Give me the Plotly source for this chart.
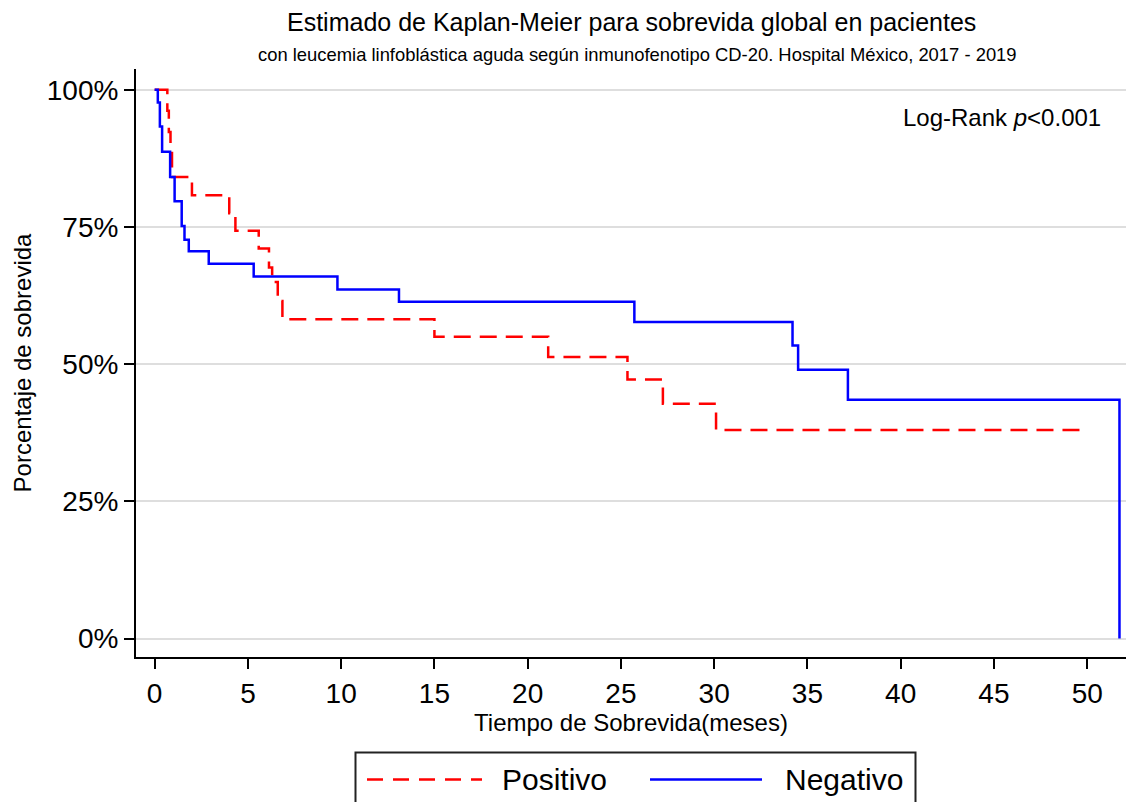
import plotly.graph_objects as go

# ---------------- data ----------------
pos_time = [0, 0.68, 0.76, 0.85, 0.93, 2.00, 4.00, 4.33, 5.58, 6.13, 6.30, 6.60, 6.85,
            15.00, 21.10, 25.35, 27.25, 30.10, 49.87]
pos_surv = [100, 96.2, 92.3, 88.5, 84.1, 80.8, 77.5, 74.3, 71.1, 67.6, 65.0, 61.5, 58.2,
            55.0, 51.3, 47.2, 42.8, 38.0, 38.0]

neg_time = [0, 0.17, 0.28, 0.40, 0.83, 1.07, 1.45, 1.60, 1.83, 2.90, 5.31, 9.80, 13.10,
            25.72, 34.20, 34.50, 37.17, 51.73]
neg_surv = [100, 97.7, 93.3, 88.7, 84.1, 79.7, 75.2, 72.7, 70.6, 68.3, 66.0, 63.6, 61.4,
            57.7, 53.4, 49.0, 43.5, 0]

x_ticks = [0, 5, 10, 15, 20, 25, 30, 35, 40, 45, 50]
y_ticks = [0, 25, 50, 75, 100]
y_tick_labels = ["0%", "25%", "50%", "75%", "100%"]
group_names = ["Positivo", "Negativo"]

title_text = "Estimado de Kaplan-Meier para sobrevida global en pacientes"
subtitle_text = ("con leucemia linfoblástica aguda según inmunofenotipo CD-20. "
                 "Hospital México, 2017 - 2019")
logrank_text = "Log-Rank <i>p</i>&lt;0.001"

# ---------------- layout geometry ----------------
W, H = 1126, 802
ML, MR, MT = 136, 0, 69
AXIS_Y = 657.5
MB = H - AXIS_Y
PW = W - ML - MR
PH = AXIS_Y - MT
FONT = "Liberation Sans, Arial, sans-serif"


def xp(px):
    return (px - ML) / PW


def yp(py):
    return (AXIS_Y - py) / PH


fig = go.Figure()
fig.add_trace(go.Scatter(
    x=pos_time, y=pos_surv, mode="lines", name=group_names[0],
    line=dict(color="#ff0000", width=2.5, dash="17px,9px", shape="hv"),
    showlegend=False))
fig.add_trace(go.Scatter(
    x=neg_time, y=neg_surv, mode="lines", name=group_names[1],
    line=dict(color="#0000ff", width=2.5, shape="hv"),
    showlegend=False))

annotations = [
    dict(text=title_text, x=xp(631), y=yp(22), xref="paper", yref="paper",
         xanchor="center", yanchor="middle", showarrow=False,
         font=dict(size=25, color="black", family=FONT)),
    dict(text=subtitle_text, x=xp(637), y=yp(54), xref="paper", yref="paper",
         xanchor="center", yanchor="middle", showarrow=False,
         font=dict(size=18.4, color="black", family=FONT)),
    dict(text=logrank_text, x=xp(1103), y=yp(118), xref="paper", yref="paper",
         xanchor="right", yanchor="middle", showarrow=False,
         font=dict(size=24, color="black", family=FONT)),
    dict(text=group_names[0], x=xp(500), y=yp(780.5), xref="paper", yref="paper",
         xanchor="left", yanchor="middle", showarrow=False,
         font=dict(size=30, color="black", family=FONT)),
    dict(text=group_names[1], x=xp(783), y=yp(780.5), xref="paper", yref="paper",
         xanchor="left", yanchor="middle", showarrow=False,
         font=dict(size=30, color="black", family=FONT)),
]

shapes = [
    dict(type="rect", xref="paper", yref="paper",
         x0=xp(355.5), x1=xp(915.5), y0=yp(753), y1=yp(815),
         line=dict(color="#222222", width=2), fillcolor="rgba(0,0,0,0)"),
    dict(type="line", xref="paper", yref="paper",
         x0=xp(367), x1=xp(482), y0=yp(780), y1=yp(780),
         line=dict(color="#ff0000", width=2.5, dash="16px,10px")),
    dict(type="line", xref="paper", yref="paper",
         x0=xp(650), x1=xp(762), y0=yp(780), y1=yp(780),
         line=dict(color="#0000ff", width=2.5)),
]

fig.update_layout(
    width=W, height=H,
    margin=dict(l=ML, r=MR, t=MT, b=MB, pad=0),
    paper_bgcolor="white", plot_bgcolor="white",
    font=dict(family=FONT, color="black"),
    annotations=annotations, shapes=shapes,
    showlegend=False,
)
fig.update_xaxes(
    range=[-1.0, 52.08], tickvals=x_ticks, ticks="outside", ticklen=10, tickwidth=2,
    tickcolor="black", showline=True, linecolor="black", linewidth=2,
    showgrid=False, zeroline=False, tickfont=dict(size=28, color="black", family=FONT),
    title=dict(text="Tiempo de Sobrevida(meses)", standoff=2,
               font=dict(size=24, color="black", family=FONT)),
)
fig.update_yaxes(
    range=[-3.37, 103.8], tickvals=y_ticks, ticktext=y_tick_labels, ticks="outside",
    ticklen=10, tickwidth=2, tickcolor="black", showline=True, linecolor="black",
    linewidth=2, showgrid=True, gridcolor="#dedede", gridwidth=2, zeroline=False,
    tickfont=dict(size=28, color="black", family=FONT),
    title=dict(text="Porcentaje de sobrevida", standoff=8,
               font=dict(size=24, color="black", family=FONT)),
)

fig.write_html("out.html")
